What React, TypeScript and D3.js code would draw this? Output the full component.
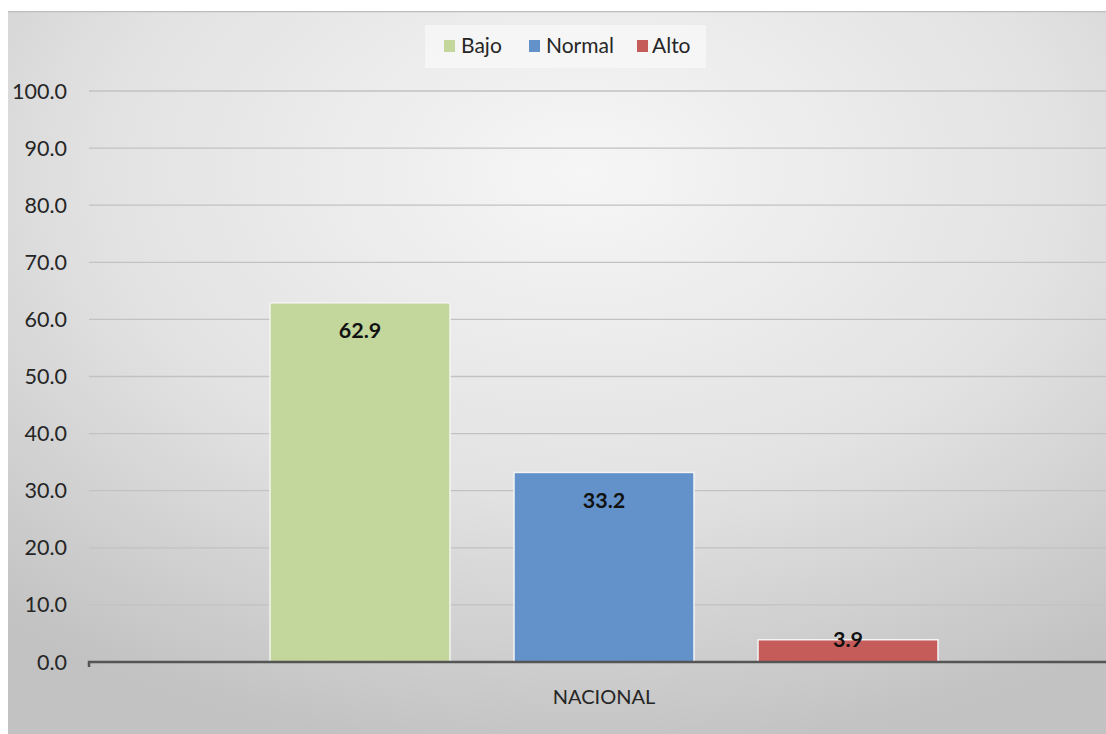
import React from "react";
import * as d3 from "d3";

// data
const categories = ["NACIONAL"];
const seriesNames = ["Bajo", "Normal", "Alto"];
const seriesValues = [62.9, 33.2, 3.9];
const seriesColors = ["#c3d69b", "#6391c9", "#c55c5a"];
const yTicks = [0, 10, 20, 30, 40, 50, 60, 70, 80, 90, 100];

const W = 1106;
const H = 734;
const font = "Lato, 'Open Sans', sans-serif";

const App: React.FC = () => {
    const plot = { left: 89, right: 1119, top: 91, bottom: 662 };

    const y = d3.scaleLinear().domain([0, 100]).range([plot.bottom, plot.top]);
    const x0 = d3
        .scaleBand()
        .domain(categories)
        .range([plot.left, plot.right])
        .paddingOuter(0.1757)
        .paddingInner(0);
    const x1 = d3
        .scaleBand()
        .domain(seriesNames)
        .range([0, 668])
        .paddingInner(0.2623)
        .paddingOuter(0);

    // group inner offset so the 3 bars are centred in the category band
    const groupStart = (cat: string) =>
        x0(cat)! + (x0.bandwidth() - 668) / 2;

    const legendItems = [
        { name: seriesNames[0], sx: 444, tx: 461 },
        { name: seriesNames[1], sx: 529, tx: 546 },
        { name: seriesNames[2], sx: 637, tx: 652 },
    ];

    return (
        <svg
            width={W}
            height={H}
            style={{ position: "absolute", left: 0, top: 0 }}
        >
            <defs>
                <radialGradient id="bg" cx="0.52" cy="0.22" r="0.8">
                    <stop offset="0" stopColor="#f6f6f6" />
                    <stop offset="0.55" stopColor="#e2e2e2" />
                    <stop offset="1" stopColor="#c2c2c2" />
                </radialGradient>
                <clipPath id="clip">
                    <rect x={8} y={11} width={W - 8} height={H - 11} />
                </clipPath>
            </defs>
            <rect x={0} y={0} width={W} height={H} fill="#ffffff" />
            <g clipPath="url(#clip)">
                <rect x={8} y={11} width={W} height={H} fill="url(#bg)" />
                <line x1={8} x2={W} y1={11.5} y2={11.5} stroke="#bdbdbd" strokeWidth={1.5} />

                {/* gridlines */}
                {yTicks.slice(1).map((t) => (
                    <line
                        key={t}
                        x1={plot.left}
                        x2={plot.right}
                        y1={y(t)}
                        y2={y(t)}
                        stroke="#c2c2c2"
                        strokeWidth={1.3}
                    />
                ))}

                {/* y tick labels */}
                {yTicks.map((t) => (
                    <text
                        key={t}
                        x={67}
                        y={y(t)}
                        dy="0.35em"
                        textAnchor="end"
                        fontFamily={font}
                        fontSize={21.5}
                        fill="#262626"
                    >
                        {t.toFixed(1)}
                    </text>
                ))}

                {/* bars */}
                {categories.map((cat) => (
                    <g key={cat}>
                        {seriesNames.map((s, i) => {
                            const bx = groupStart(cat) + x1(s)!;
                            const top = y(seriesValues[i]);
                            const h = plot.bottom - top;
                            const labelY = h > 50 ? top + 28 : top;
                            return (
                                <g key={s}>
                                    <rect
                                        x={bx}
                                        y={top}
                                        width={x1.bandwidth()}
                                        height={h}
                                        fill={seriesColors[i]}
                                        stroke="#f4f4f4"
                                        strokeWidth={1.5}
                                    />
                                    <text
                                        x={bx + x1.bandwidth() / 2}
                                        y={labelY}
                                        dy="0.35em"
                                        textAnchor="middle"
                                        fontFamily={font}
                                        fontSize={21.5}
                                        fontWeight="bold"
                                        fill="#111"
                                    >
                                        {seriesValues[i].toFixed(1)}
                                    </text>
                                </g>
                            );
                        })}
                        <text
                            x={x0(cat)! + x0.bandwidth() / 2}
                            y={697}
                            dy="0.35em"
                            textAnchor="middle"
                            fontFamily={font}
                            fontSize={20}
                            fill="#262626"
                        >
                            {cat}
                        </text>
                    </g>
                ))}

                {/* x axis line */}
                <path
                    d={`M${plot.left},${plot.bottom + 5}V${plot.bottom}H${plot.right}`}
                    fill="none"
                    stroke="#555"
                    strokeWidth={2.5}
                />

                {/* legend */}
                <rect x={425} y={25} width={281} height={43} fill="#f7f7f7" opacity={0.85} />
                {legendItems.map((d, i) => (
                    <g key={d.name}>
                        <rect x={d.sx} y={40} width={11} height={12} fill={seriesColors[i]} />
                        <text
                            x={d.tx}
                            y={46}
                            dy="0.35em"
                            fontFamily={font}
                            fontSize={21}
                            fill="#262626"
                        >
                            {d.name}
                        </text>
                    </g>
                ))}
            </g>
        </svg>
    );
};

export default App;
